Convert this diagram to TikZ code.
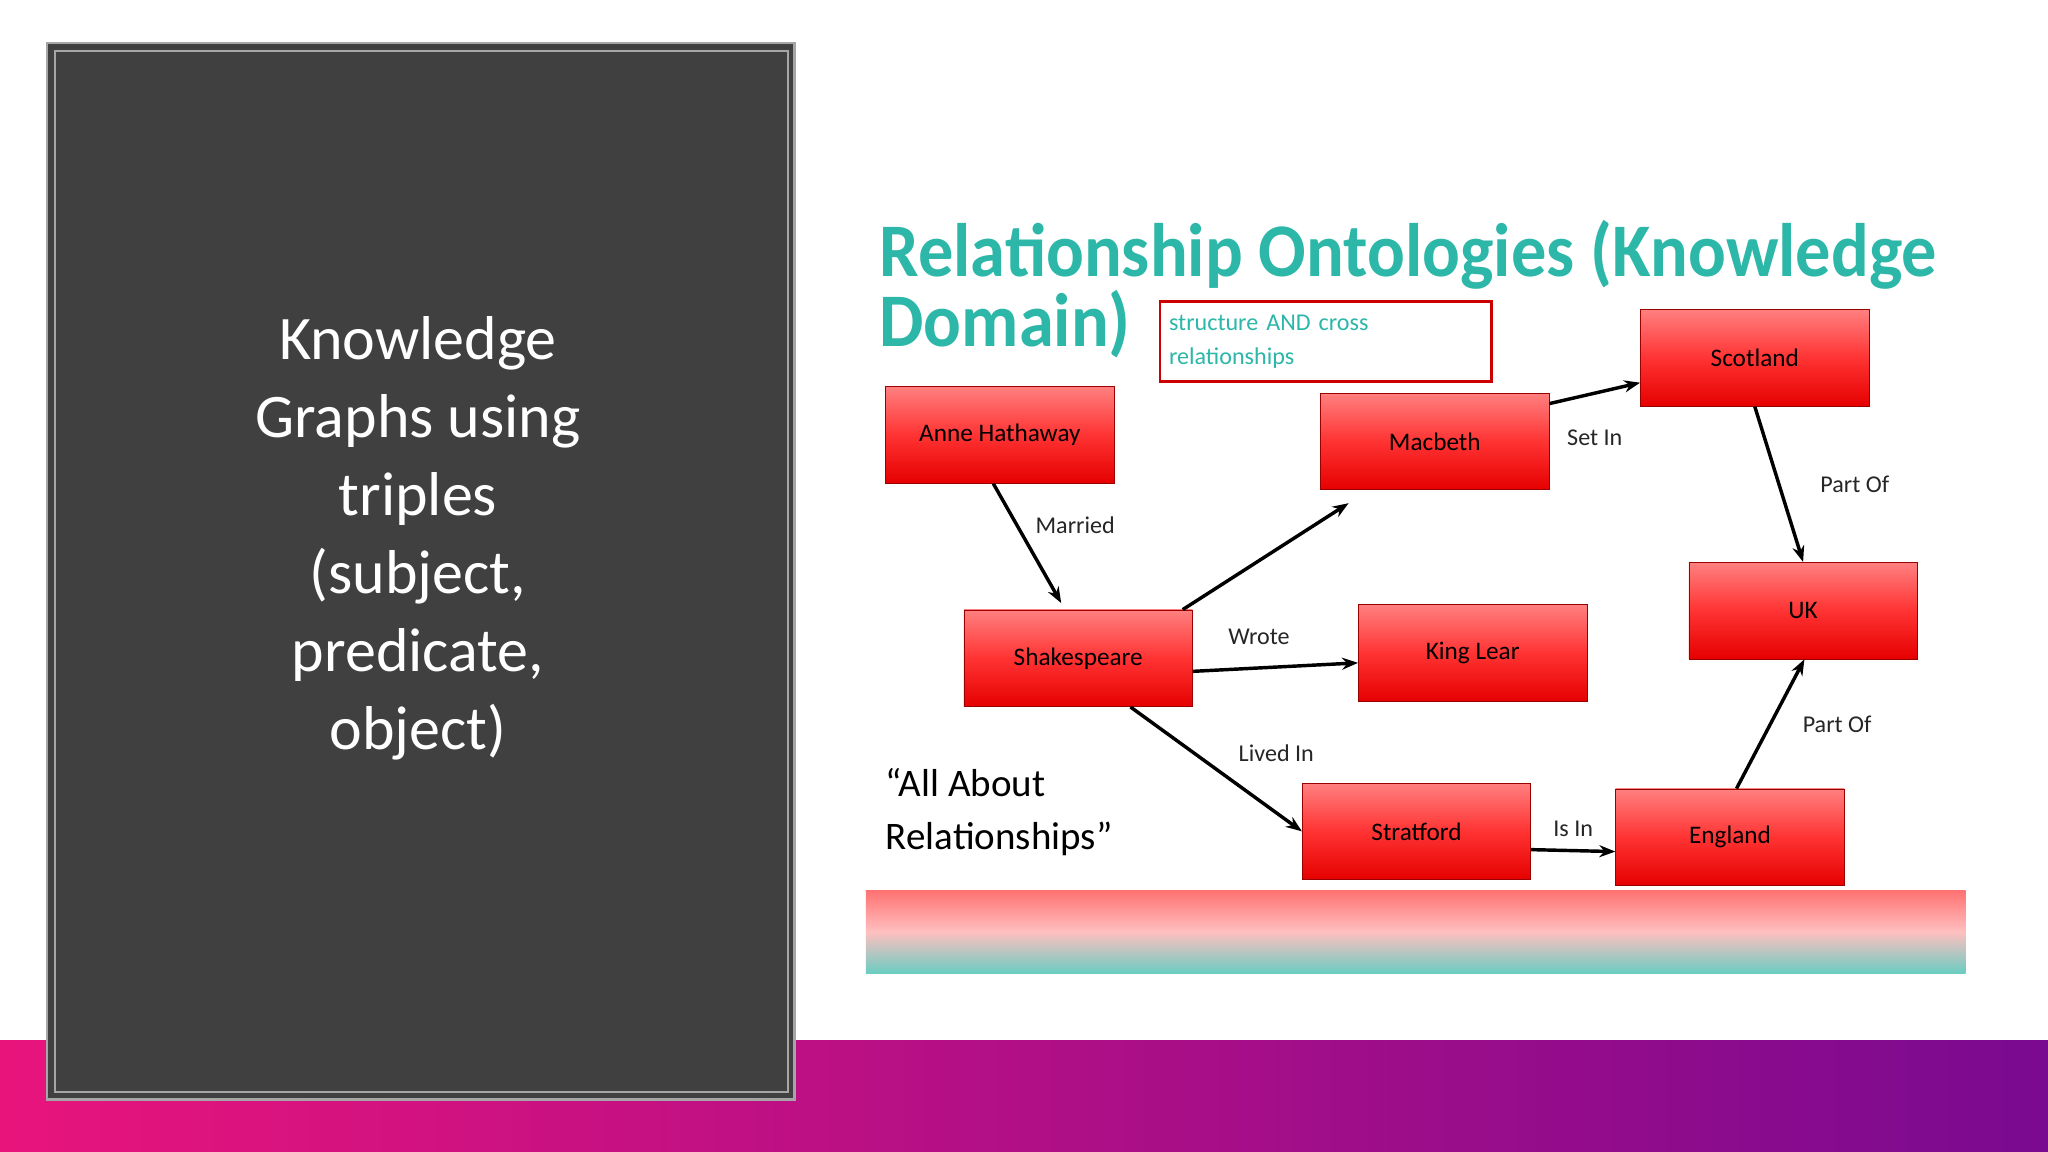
\documentclass[tikz,border=0pt]{standalone}
\usepackage{fontspec}
\setmainfont{Carlito}
\usetikzlibrary{arrows.meta,calc}
\definecolor{panel}{HTML}{404040}
\definecolor{teal1}{HTML}{2CB7A8}
\definecolor{mag}{HTML}{E8147C}
\definecolor{purp}{HTML}{7A0A90}
\begin{document}
\begin{tikzpicture}[x=0.02cm,y=-0.02cm,
  rbox/.style={draw=red!60!black,line width=0.3pt,top color=red!50!white,bottom color=red!90!black,middle color=red!80,minimum width=3.5cm,minimum height=1.48cm,font=\fontsize{11}{13}\selectfont,text=black},
  arr/.style={-{Stealth[length=7pt]},line width=1.5pt},
  lab/.style={font=\fontsize{10.5}{12}\selectfont,text=black!85}]
\useasboundingbox (0,0) rectangle (1568,882);
\fill[white] (0,0) rectangle (1568,882);
\shade[left color=mag,right color=purp] (0,797) rectangle (1568,882);
\fill[panel] (36,33) rectangle (608,842);
\draw[gray!70,line width=1.2pt] (36,33) rectangle (608,842);
\draw[gray!70,line width=0.8pt] (42,39) rectangle (603,836);
\node[text=white,align=center,font=\fontsize{27}{34}\selectfont] (ttl) at (320,412) {Knowledge\\Graphs using\\triples\\(subject,\\predicate,\\object)};
% right image
\node[anchor=west,text=teal1,font=\bfseries\fontsize{33}{38}\selectfont,inner sep=0] (h1) at (673,195) {\scalebox{0.93}[1]{Relationship Ontologies (Knowledge}};
\node[anchor=west,text=teal1,font=\bfseries\fontsize{33}{38}\selectfont,inner sep=0] (h2) at (673,248) {\scalebox{0.93}[1]{Domain)}};
\node[draw=red!80!black,line width=1.2pt,minimum width=5.08cm,minimum height=1.22cm,text=teal1,align=left,font=\fontsize{10.5}{15}\selectfont,text width=4.8cm] (note) at (1015,261.5) {structure AND cross\\relationships};
\node[rbox] (anne) at (765.5,333) {Anne Hathaway};
\node[rbox] (mac) at (1098.5,338) {Macbeth};
\node[rbox] (sco) at (1343.5,274) {Scotland};
\node[rbox] (shk) at (825.5,504) {Shakespeare};
\node[rbox] (lear) at (1127.5,500) {King Lear};
\node[rbox] (uk) at (1380.5,467.5) {UK};
\node[rbox] (str) at (1084.5,636.5) {Stratford};
\node[rbox] (eng) at (1324.5,641) {England};
\draw[arr] ([xshift=-5*0.02cm]anne.south) -- ([xshift=-13*0.02cm,yshift=0.1cm]shk.north) node[lab,pos=0.35,right=4pt] {Married};
\draw[arr] ([xshift=80*0.02cm]shk.north) -- ([xshift=-66*0.02cm,yshift=-0.2cm]mac.south);
\draw[arr] ([yshift=-0.2cm]shk.east) -- ([yshift=-0.15cm]lear.west) node[lab,pos=0.4,above=6pt] {Wrote};
\draw[arr] ([xshift=40*0.02cm]shk.south) -- (str.west) node[lab,pos=0.55,above right=2pt] {Lived In};
\draw[arr] ([yshift=0.58cm]mac.east) -- ([yshift=-0.38cm]sco.west) node[lab,pos=0.5,below=12pt] {Set In};
\draw[arr] (sco.south) -- (uk.north) node[lab,pos=0.5,right=14pt] {Part Of};
\draw[arr] ([yshift=-0.28cm]str.east) -- ([yshift=-0.22cm]eng.west) node[lab,pos=0.5,above=2pt] {Is In};
\draw[arr] ([xshift=5*0.02cm]eng.north) -- ([xshift=0.02cm]uk.south) node[lab,pos=0.5,right=10pt] {Part Of};
\node[anchor=north west,align=left,font=\fontsize{17}{23}\selectfont,text=black] (all) at (672,582) {“All About\\Relationships”};
\shade[top color=red!55!white,bottom color=teal1!70,middle color=red!25!white] (663,682) rectangle (1505,745);
\end{tikzpicture}
\end{document}
